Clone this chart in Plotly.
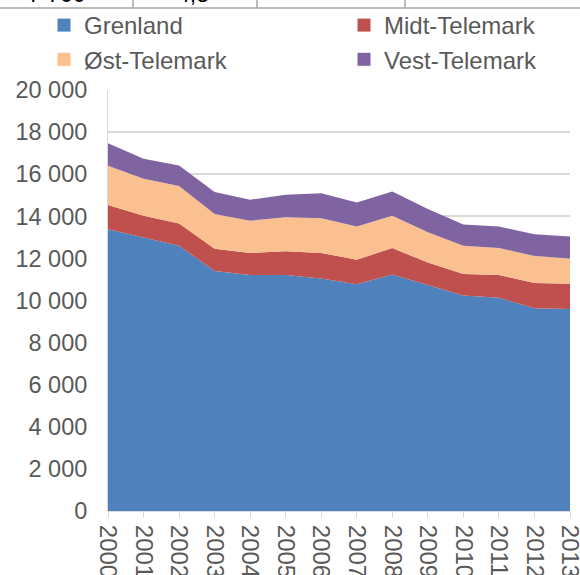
import plotly.graph_objects as go

years = list(range(2000, 2014))
grenland = [13380, 12980, 12600, 11400, 11210, 11210, 11040, 10770, 11240, 10740, 10240, 10130, 9630, 9600]
midt = [1155, 1045, 1060, 1060, 1045, 1125, 1220, 1170, 1250, 1060, 1015, 1080, 1200, 1190]
ost = [1865, 1760, 1775, 1650, 1535, 1615, 1645, 1570, 1535, 1440, 1345, 1285, 1285, 1205]
vest = [1065, 950, 980, 1045, 1000, 1075, 1185, 1140, 1155, 1110, 1015, 1015, 1030, 1045]

series_names = ["Grenland", "Midt-Telemark", "Øst-Telemark", "Vest-Telemark"]
series_values = [grenland, midt, ost, vest]
colors = ["#4F81BD", "#C0504D", "#FAC090", "#8064A2"]
legend_columns = ["legend", "legend2", "legend", "legend2"]

y_ticks = list(range(0, 20001, 2000))
y_tick_labels = [f"{v:,}".replace(",", " ") for v in y_ticks]

table_texts = ["7 700", "4,8"]

fig = go.Figure()
for name, vals, col in zip(series_names, series_values, colors):
    fig.add_trace(go.Scatter(
        x=years, y=vals, name=name, mode="lines", stackgroup="one",
        line=dict(width=0, color=col), fillcolor=col, showlegend=False,
        hoverinfo="skip"))
for name, col, lg in zip(series_names, colors, legend_columns):
    fig.add_trace(go.Scatter(
        x=[None], y=[None], name=name, mode="markers", legend=lg,
        marker=dict(symbol="square", size=13, color=col), showlegend=True))

L, R, T, B = 108, 10, 90, 64
PW = 580 - L - R
PH = 575 - T - B
def px(pix):
    return (pix - L) / PW
def py(pix):
    return 1 + (T - pix) / PH

FONT = "Liberation Sans, Arial, sans-serif"
legend_style = dict(orientation="v", yanchor="top", xanchor="left",
                    font=dict(size=24, color="#595959"), itemwidth=30,
                    traceorder="normal", tracegroupgap=0, bgcolor="rgba(0,0,0,0)")
fig.update_layout(
    width=580, height=575,
    margin=dict(l=L, r=R, t=T, b=B, autoexpand=False),
    plot_bgcolor="white", paper_bgcolor="white",
    font=dict(family=FONT, size=21, color="#595959"),
    legend=dict(x=px(44), y=py(3), **legend_style),
    legend2=dict(x=px(344), y=py(3), **legend_style),
    xaxis=dict(range=[1999.9999, 2013.0001], tickmode="array", tickvals=years,
               ticktext=[str(y) for y in years], tickangle=90,
               showgrid=False, showline=True, linecolor="#d9d9d9", linewidth=1,
               ticks="outside", ticklen=6, tickcolor="#d9d9d9", automargin=False,
               ticklabeloverflow="allow", ticklabelstandoff=2,
               tickfont=dict(size=24, color="#595959")),
    yaxis=dict(range=[0, 20000], tickmode="array", tickvals=y_ticks,
               ticktext=y_tick_labels, showgrid=True, gridcolor="#d9d9d9",
               gridwidth=1.5, zeroline=False, showline=True, linecolor="#d9d9d9",
               ticks="", ticklabelstandoff=15, automargin=False,
               tickfont=dict(size=23.5, color="#595959")),
    hovermode=False,
)

# table fragment above the chart
fig.add_shape(type="line", xref="paper", yref="paper", x0=px(0), x1=px(580),
              y0=py(8), y1=py(8), line=dict(color="#a6a6a6", width=1.5))
for xv in [133, 257, 405]:
    fig.add_shape(type="line", xref="paper", yref="paper", x0=px(xv), x1=px(xv),
                  y0=py(8), y1=py(-5), line=dict(color="#a6a6a6", width=1.5))
for txt, xr in zip(table_texts, [88, 211]):
    fig.add_annotation(text=txt, xref="paper", yref="paper", x=px(xr), y=py(9),
                       xanchor="right", yanchor="bottom", showarrow=False,
                       font=dict(size=23, color="#000000", family=FONT))

fig.write_html("out.html", config={"displayModeBar": False},
               post_script="document.body.style.margin='0';")
